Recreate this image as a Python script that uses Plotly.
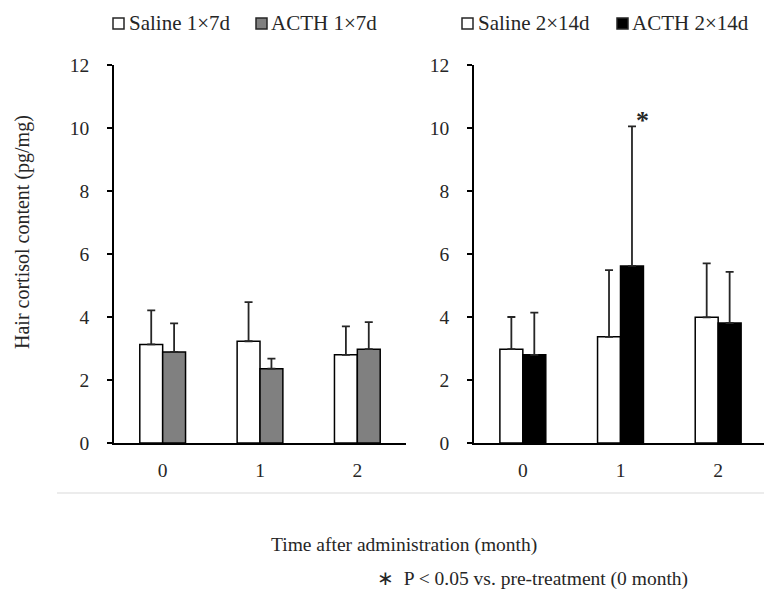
import plotly.graph_objects as go

# The page body adds an 8px margin; lay out in reference pixels and compensate.
PAGE_W, PAGE_H = 772, 596
OFF = 8
W, H = PAGE_W - OFF, PAGE_H - OFF

months = ["0", "1", "2"]

# Left panel (1x7d)
saline_1x7 = [3.13, 3.23, 2.80]
saline_1x7_sd = [1.08, 1.24, 0.90]
acth_1x7 = [2.89, 2.36, 2.98]
acth_1x7_sd = [0.91, 0.32, 0.86]

# Right panel (2x14d)
saline_2x14 = [2.98, 3.37, 3.99]
saline_2x14_sd = [1.02, 2.12, 1.71]
acth_2x14 = [2.80, 5.62, 3.81]
acth_2x14_sd = [1.34, 4.43, 1.62]

y_ticks = [0, 2, 4, 6, 8, 10, 12]

FONT = "Liberation Serif, Times New Roman, serif"
TXT = "#262626"

def px_x(p):
    return (p - OFF) / W

def px_y(p):
    return 1 - (p - OFF) / H

fig = go.Figure()

def add_bar(x, y, sd, color, xa, ya):
    fig.add_trace(go.Bar(
        x=x, y=y, xaxis=xa, yaxis=ya,
        marker=dict(color=color, line=dict(color="#000000", width=1.5)),
        error_y=dict(type="data", symmetric=False, array=sd,
                     arrayminus=[0] * len(sd), color="#262626",
                     thickness=1.8, width=4),
        showlegend=False,
    ))

add_bar(months, saline_1x7, saline_1x7_sd, "#ffffff", "x", "y")
add_bar(months, acth_1x7, acth_1x7_sd, "#808080", "x", "y")
add_bar(months, saline_2x14, saline_2x14_sd, "#ffffff", "x2", "y2")
add_bar(months, acth_2x14, acth_2x14_sd, "#000000", "x2", "y2")

ydom = [px_y(443), px_y(65)]
xaxis_common = dict(type="category", showline=True, linecolor="#000000",
                    linewidth=1.5, ticks="", showgrid=False, zeroline=False,
                    automargin=False,
                    tickfont=dict(family=FONT, size=19.5, color=TXT),
                    ticklabelstandoff=9, fixedrange=True)
yaxis_common = dict(range=[0, 12], tickvals=y_ticks, showline=True,
                    linecolor="#000000", linewidth=1.5, ticks="outside",
                    ticklen=5, tickwidth=1.5, tickcolor="#000000",
                    showgrid=False, zeroline=False, automargin=False,
                    tickfont=dict(family=FONT, size=19.5, color=TXT),
                    ticklabelstandoff=14, domain=ydom)

fig.update_layout(
    width=W, height=H,
    margin=dict(l=0, r=0, t=0, b=0, autoexpand=False),
    paper_bgcolor="#ffffff", plot_bgcolor="#ffffff",
    barmode="group", bargap=0.53, bargroupgap=0,
    font=dict(family=FONT, color=TXT),
    xaxis=dict(domain=[px_x(114), px_x(406)], anchor="y", **xaxis_common),
    yaxis=dict(anchor="x", **yaxis_common),
    xaxis2=dict(domain=[px_x(474), px_x(767)], anchor="y2", **xaxis_common),
    yaxis2=dict(anchor="x2", **yaxis_common),
)

# Separator line
fig.add_shape(type="line", xref="paper", yref="paper",
              x0=px_x(57), x1=1, y0=px_y(493), y1=px_y(493),
              line=dict(color="#d9d9d9", width=1))

# Manual legends
legend_items = [
    (113, "#ffffff", 127, "Saline 1\u00d77d"),
    (256, "#808080", 269, "ACTH 1\u00d77d"),
    (462, "#ffffff", 476, "Saline 2\u00d714d"),
    (617, "#000000", 630, "ACTH 2\u00d714d"),
]
for sx, col, tx, label in legend_items:
    fig.add_shape(type="rect", xref="paper", yref="paper",
                  x0=px_x(sx), x1=px_x(sx + 11), y0=px_y(29), y1=px_y(18),
                  fillcolor=col, line=dict(color="#262626", width=1.5))
    fig.add_annotation(xref="paper", yref="paper", x=px_x(tx), y=px_y(23),
                       text=label, showarrow=False, xanchor="left",
                       yanchor="middle",
                       font=dict(family=FONT, size=21, color=TXT))

# Y axis title
fig.add_annotation(xref="paper", yref="paper", x=px_x(22), y=px_y(232),
                   text="Hair cortisol content (pg/mg)", showarrow=False,
                   textangle=-90, xanchor="center", yanchor="middle",
                   font=dict(family=FONT, size=20, color=TXT))

# X axis title
fig.add_annotation(xref="paper", yref="paper", x=px_x(403.5), y=px_y(545),
                   text="Time after administration (month)", showarrow=False,
                   xanchor="center", yanchor="middle",
                   font=dict(family=FONT, size=19.5, color=TXT))

# Footnote
fig.add_annotation(xref="paper", yref="paper", x=px_x(375), y=px_y(579),
                   text="\u2217  P < 0.05 vs. pre-treatment (0 month)",
                   showarrow=False, xanchor="left", yanchor="middle",
                   font=dict(family=FONT, size=19.5, color=TXT))

# Significance asterisk
fig.add_annotation(xref="x2", yref="y2", x="1", y=acth_2x14[1] + acth_2x14_sd[1],
                   text="<b>*</b>", showarrow=False, xshift=22, yshift=-11,
                   xanchor="center", yanchor="bottom",
                   font=dict(family=FONT, size=26, color=TXT))

fig.write_html("out.html")
